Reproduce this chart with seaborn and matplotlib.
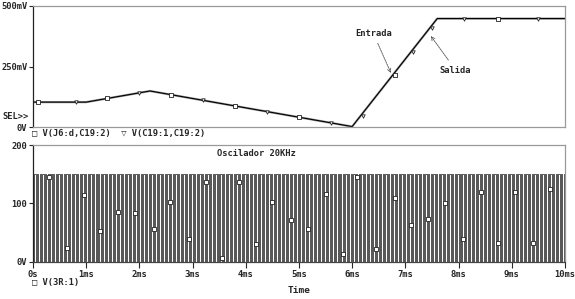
import matplotlib
matplotlib.use("Agg")
import matplotlib.pyplot as plt
import numpy as np
import pandas as pd
import seaborn as sns

# top panel: input / output voltage (mV) vs time (ms)
TIME_MS = [0.0, 1.0, 2.2, 6.0, 7.6, 10.0]
ENTRADA_MV = [103, 103, 149, 2, 448, 448]
SALIDA_MV = [103, 103, 149, 2, 448, 448]

SQ_T = [0.1, 1.4, 2.6, 3.8, 5.0, 6.8, 8.75]
SQ_V = [103, 118, 134, 87, 41, 214, 448]
TRI_T = [0.8, 2.0, 3.2, 4.4, 5.6, 6.2, 7.15, 7.5, 8.1, 9.5]
TRI_V = [103, 141, 111, 64, 18, 47, 312, 410, 448, 448]

# bottom panel: 20 kHz oscillator (one period = low, high)
OSC_PERIOD_MS = 0.05
OSC_LOW = 0
OSC_HIGH = 150
OSC_MARK_T = [0.3, 0.64, 0.95, 1.26, 1.6, 1.92, 2.27, 2.58, 2.93, 3.25, 3.56, 3.87,
              4.19, 4.5, 4.85, 5.17, 5.5, 5.83, 6.1, 6.45, 6.8, 7.11, 7.43, 7.75,
              8.08, 8.42, 8.74, 9.06, 9.4, 9.72]
OSC_MARK_V = [145, 24, 114, 53, 86, 83, 57, 102, 40, 136, 7, 136,
              31, 102, 72, 57, 117, 14, 145, 22, 110, 64, 74, 100,
              40, 119, 33, 119, 33, 124]

X_TICKS = list(range(11))
X_LABELS = ["0s"] + [f"{i}ms" for i in range(1, 11)]

sns.set_style("white")
plt.rcParams["font.family"] = ["DejaVu Sans Mono", "DejaVu Sans"]
FS = 6.3

fig = plt.figure(figsize=(5.75, 2.99), dpi=100)
ax1 = fig.add_axes([0.0574, 0.575, 0.925, 0.405])
ax2 = fig.add_axes([0.0574, 0.124, 0.925, 0.391])

top = pd.DataFrame({"t": TIME_MS, "entrada": ENTRADA_MV, "salida": SALIDA_MV})
sns.lineplot(data=top, x="t", y="entrada", ax=ax1, color="#9a9a9a", lw=1.6)
sns.lineplot(data=top, x="t", y="salida", ax=ax1, color="#000000", lw=0.8)
ax1.scatter(SQ_T, SQ_V, marker="s", s=6, facecolors="white", edgecolors="#222222", lw=0.6, zorder=3)
ax1.scatter(TRI_T, TRI_V, marker="v", s=6, facecolors="white", edgecolors="#222222", lw=0.6, zorder=3)
ax1.set_xlim(0, 10)
ax1.set_ylim(0, 500)
ax1.set_yticks([0, 250, 500])
ax1.set_yticklabels(["0V", "250mV", "500mV"], fontsize=FS, fontweight="bold")
ax1.set_xticks([])
ax1.set_xlabel("")
ax1.set_ylabel("")
ax1.text(-0.058, 45, "SEL>>", fontsize=FS, fontweight="bold", va="center", ha="left",
         transform=ax1.get_yaxis_transform())
ax1.annotate("Entrada", xy=(6.75, 213), xytext=(6.05, 378), fontsize=FS, fontweight="bold",
             arrowprops=dict(arrowstyle="->", color="#555555", lw=0.6, ls=(0, (2, 1))))
ax1.annotate("Salida", xy=(7.45, 385), xytext=(7.65, 225), fontsize=FS, fontweight="bold",
             arrowprops=dict(arrowstyle="->", color="#555555", lw=0.6, ls=(0, (2, 1))))

half = OSC_PERIOD_MS / 2
edges = np.arange(0, 10 + half, half)
t = np.repeat(edges, 2)[1:-1]
v = np.tile([OSC_LOW, OSC_LOW, OSC_HIGH, OSC_HIGH], len(t) // 4 + 1)[:len(t)]
osc = pd.DataFrame({"t": t, "v": v})
ax2.plot(osc["t"], osc["v"], color="#111111", lw=0.5)
ax2.scatter(OSC_MARK_T, OSC_MARK_V, marker="s", s=5, facecolors="white", edgecolors="#222222",
            lw=0.6, zorder=3)
ax2.set_xlim(0, 10)
ax2.set_ylim(0, 200)
ax2.set_yticks([0, 100, 200])
ax2.set_yticklabels(["0V", "100", "200"], fontsize=FS, fontweight="bold")
ax2.set_xticks(X_TICKS)
ax2.set_xticklabels(X_LABELS, fontsize=FS, fontweight="bold")
ax2.set_xlabel("Time", fontsize=FS + 0.5, fontweight="bold", labelpad=5)
ax2.set_ylabel("")
ax2.text(3.45, 181, "Oscilador 20KHz", fontsize=FS, fontweight="bold")

for ax in (ax1, ax2):
    for side in ("top", "right", "bottom"):
        ax.spines[side].set_color("#9a9a9a")
        ax.spines[side].set_linewidth(0.9)
    ax.spines["left"].set_color("#222222")
    ax.spines["left"].set_linewidth(0.9)
    ax.tick_params(axis="y", length=3, width=0.8, pad=1, left=True)
ax2.spines["bottom"].set_color("#444444")
ax2.tick_params(axis="x", length=4, width=0.8, pad=2, bottom=True)

fig.text(0.056, 0.552, "\u25a1 V(J6:d,C19:2)  \u25bd V(C19:1,C19:2)", fontsize=FS, fontweight="bold",
         va="center", ha="left")
fig.text(0.056, 0.054, "\u25a1 V(3R:1)", fontsize=FS, fontweight="bold", va="center", ha="left")

fig.savefig("out.png", dpi=100)
